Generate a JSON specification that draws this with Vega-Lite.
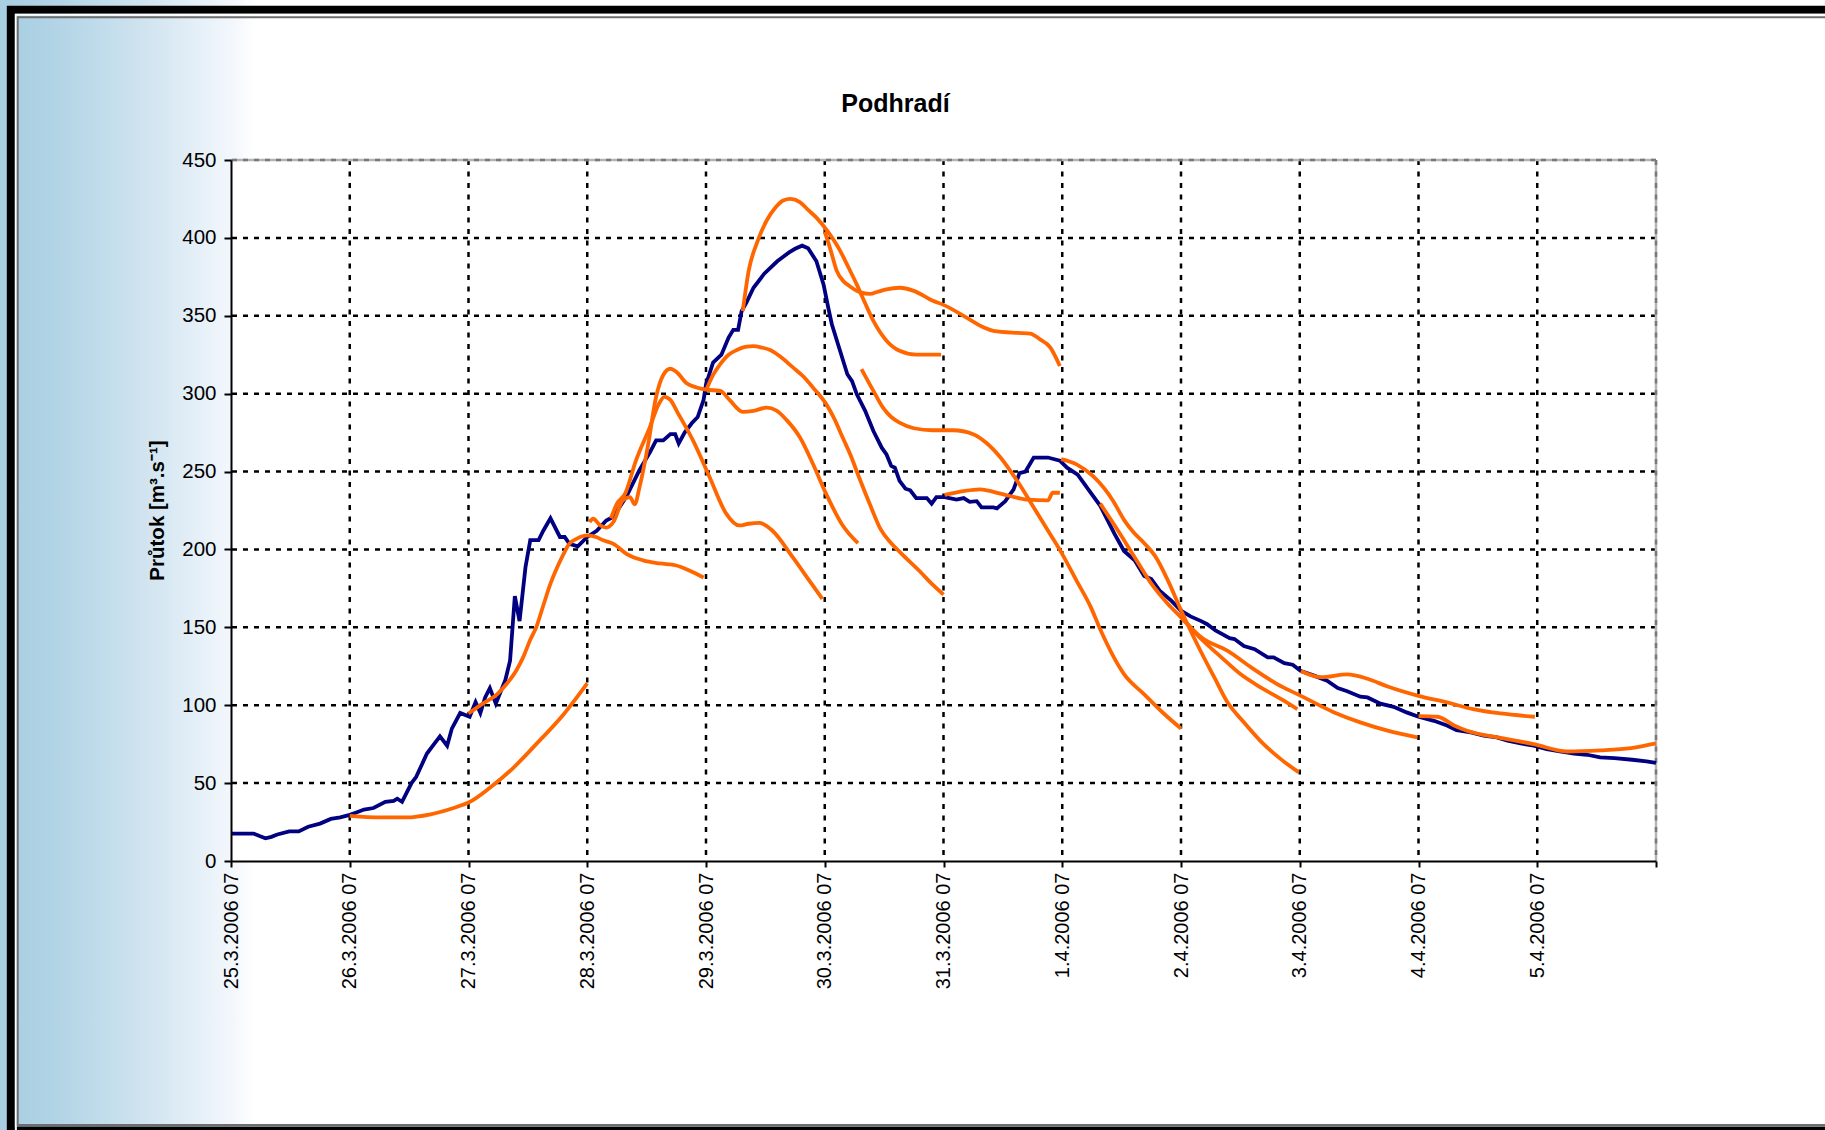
{
  "$schema": "https://vega.github.io/schema/vega-lite/v6.json",
  "width": 1425,
  "height": 701,
  "autosize": {"type": "none"},
  "padding": {"left": 231, "top": 160, "right": 169, "bottom": 269},
  "background": "#ffffff",
  "config": {
    "view": {"stroke": null},
    "font": "Liberation Sans"
  },
  "title": {
    "text": "Podhradí",
    "font": "Liberation Sans",
    "fontSize": 25,
    "fontWeight": "bold",
    "color": "#000000",
    "anchor": "middle",
    "dx": -48,
    "offset": 0,
    "dy": 158,
    "baseline": "alphabetic"
  },
  "datasets": {
    "obs": [
      {"t": "2006-03-25T07:00", "q": 17.6}, {"t": "2006-03-25T11:34", "q": 17.6}, {"t": "2006-03-25T12:46", "q": 16},
      {"t": "2006-03-25T13:58", "q": 14.6}, {"t": "2006-03-25T15:10", "q": 15.5}, {"t": "2006-03-25T16:22", "q": 17},
      {"t": "2006-03-25T18:46", "q": 19}, {"t": "2006-03-25T20:41", "q": 19}, {"t": "2006-03-25T22:36", "q": 22},
      {"t": "2006-03-26T01:00", "q": 24}, {"t": "2006-03-26T03:10", "q": 27}, {"t": "2006-03-26T05:05", "q": 28},
      {"t": "2006-03-26T07:00", "q": 29.6}, {"t": "2006-03-26T08:12", "q": 31}, {"t": "2006-03-26T09:53", "q": 33},
      {"t": "2006-03-26T11:48", "q": 34}, {"t": "2006-03-26T14:12", "q": 38}, {"t": "2006-03-26T15:53", "q": 38.6},
      {"t": "2006-03-26T16:36", "q": 40}, {"t": "2006-03-26T17:34", "q": 38}, {"t": "2006-03-26T19:29", "q": 50},
      {"t": "2006-03-26T20:26", "q": 54}, {"t": "2006-03-26T22:36", "q": 69}, {"t": "2006-03-27T00:02", "q": 75},
      {"t": "2006-03-27T01:14", "q": 80}, {"t": "2006-03-27T02:41", "q": 74}, {"t": "2006-03-27T03:38", "q": 85},
      {"t": "2006-03-27T05:19", "q": 95}, {"t": "2006-03-27T07:14", "q": 92.6}, {"t": "2006-03-27T08:26", "q": 102},
      {"t": "2006-03-27T09:24", "q": 95}, {"t": "2006-03-27T10:22", "q": 105}, {"t": "2006-03-27T11:19", "q": 111},
      {"t": "2006-03-27T12:31", "q": 101}, {"t": "2006-03-27T14:26", "q": 116}, {"t": "2006-03-27T15:24", "q": 128.6},
      {"t": "2006-03-27T16:22", "q": 170}, {"t": "2006-03-27T17:19", "q": 154}, {"t": "2006-03-27T18:31", "q": 188.6},
      {"t": "2006-03-27T19:29", "q": 206}, {"t": "2006-03-27T21:10", "q": 206}, {"t": "2006-03-27T22:07", "q": 212},
      {"t": "2006-03-27T23:34", "q": 220}, {"t": "2006-03-28T01:29", "q": 208}, {"t": "2006-03-28T02:26", "q": 208},
      {"t": "2006-03-28T03:24", "q": 203.6}, {"t": "2006-03-28T05:05", "q": 202}, {"t": "2006-03-28T07:00", "q": 208},
      {"t": "2006-03-28T08:55", "q": 212}, {"t": "2006-03-28T10:50", "q": 218.6}, {"t": "2006-03-28T12:17", "q": 221},
      {"t": "2006-03-28T14:55", "q": 234}, {"t": "2006-03-28T17:34", "q": 251}, {"t": "2006-03-28T19:43", "q": 262.6},
      {"t": "2006-03-28T20:55", "q": 270}, {"t": "2006-03-28T22:22", "q": 270}, {"t": "2006-03-28T23:48", "q": 274},
      {"t": "2006-03-29T00:46", "q": 274}, {"t": "2006-03-29T01:29", "q": 268}, {"t": "2006-03-29T02:41", "q": 275},
      {"t": "2006-03-29T04:07", "q": 281}, {"t": "2006-03-29T05:19", "q": 285}, {"t": "2006-03-29T06:31", "q": 296},
      {"t": "2006-03-29T07:00", "q": 306}, {"t": "2006-03-29T08:26", "q": 320}, {"t": "2006-03-29T10:07", "q": 325},
      {"t": "2006-03-29T11:34", "q": 336}, {"t": "2006-03-29T12:31", "q": 341}, {"t": "2006-03-29T13:29", "q": 341},
      {"t": "2006-03-29T14:12", "q": 353}, {"t": "2006-03-29T15:10", "q": 358.5}, {"t": "2006-03-29T16:36", "q": 368},
      {"t": "2006-03-29T18:46", "q": 377}, {"t": "2006-03-29T21:24", "q": 385}, {"t": "2006-03-29T23:48", "q": 390.7},
      {"t": "2006-03-30T01:00", "q": 393}, {"t": "2006-03-30T02:26", "q": 395}, {"t": "2006-03-30T03:38", "q": 393.4},
      {"t": "2006-03-30T05:19", "q": 385}, {"t": "2006-03-30T06:46", "q": 370}, {"t": "2006-03-30T07:43", "q": 355},
      {"t": "2006-03-30T08:26", "q": 344.6}, {"t": "2006-03-30T09:53", "q": 329.6}, {"t": "2006-03-30T11:34", "q": 312.5},
      {"t": "2006-03-30T12:31", "q": 308}, {"t": "2006-03-30T13:29", "q": 299.6}, {"t": "2006-03-30T15:10", "q": 289},
      {"t": "2006-03-30T16:50", "q": 276}, {"t": "2006-03-30T18:31", "q": 265.3}, {"t": "2006-03-30T19:29", "q": 261},
      {"t": "2006-03-30T20:26", "q": 253.6}, {"t": "2006-03-30T21:10", "q": 252.5}, {"t": "2006-03-30T22:07", "q": 244},
      {"t": "2006-03-30T23:19", "q": 239}, {"t": "2006-03-31T00:17", "q": 238}, {"t": "2006-03-31T01:29", "q": 233},
      {"t": "2006-03-31T03:38", "q": 233}, {"t": "2006-03-31T04:36", "q": 229.4}, {"t": "2006-03-31T05:34", "q": 233.6},
      {"t": "2006-03-31T07:14", "q": 233.6}, {"t": "2006-03-31T09:38", "q": 232}, {"t": "2006-03-31T11:05", "q": 233},
      {"t": "2006-03-31T12:17", "q": 230.6}, {"t": "2006-03-31T13:43", "q": 231}, {"t": "2006-03-31T14:41", "q": 227},
      {"t": "2006-03-31T17:05", "q": 227}, {"t": "2006-03-31T17:48", "q": 226.4}, {"t": "2006-03-31T19:29", "q": 231},
      {"t": "2006-03-31T21:10", "q": 238.6}, {"t": "2006-03-31T22:22", "q": 249}, {"t": "2006-03-31T23:34", "q": 250},
      {"t": "2006-04-01T01:14", "q": 259}, {"t": "2006-04-01T04:07", "q": 259}, {"t": "2006-04-01T06:31", "q": 257},
      {"t": "2006-04-01T07:58", "q": 252.5}, {"t": "2006-04-01T10:07", "q": 248}, {"t": "2006-04-01T12:31", "q": 237.5},
      {"t": "2006-04-01T14:41", "q": 228}, {"t": "2006-04-01T17:34", "q": 210}, {"t": "2006-04-01T19:29", "q": 199},
      {"t": "2006-04-01T21:38", "q": 193}, {"t": "2006-04-01T23:34", "q": 183}, {"t": "2006-04-02T01:00", "q": 181},
      {"t": "2006-04-02T02:41", "q": 173.6}, {"t": "2006-04-02T05:05", "q": 167}, {"t": "2006-04-02T07:00", "q": 160.7},
      {"t": "2006-04-02T08:55", "q": 157}, {"t": "2006-04-02T11:05", "q": 154}, {"t": "2006-04-02T12:17", "q": 152},
      {"t": "2006-04-02T13:58", "q": 148}, {"t": "2006-04-02T16:50", "q": 143}, {"t": "2006-04-02T17:48", "q": 142.5},
      {"t": "2006-04-02T19:43", "q": 138}, {"t": "2006-04-02T21:53", "q": 136}, {"t": "2006-04-03T00:31", "q": 130.7},
      {"t": "2006-04-03T01:43", "q": 130.7}, {"t": "2006-04-03T03:53", "q": 127}, {"t": "2006-04-03T05:34", "q": 126},
      {"t": "2006-04-03T07:14", "q": 122}, {"t": "2006-04-03T09:53", "q": 119}, {"t": "2006-04-03T12:31", "q": 115.7},
      {"t": "2006-04-03T14:41", "q": 111}, {"t": "2006-04-03T16:36", "q": 109}, {"t": "2006-04-03T19:14", "q": 105.5},
      {"t": "2006-04-03T20:41", "q": 105}, {"t": "2006-04-03T23:19", "q": 101}, {"t": "2006-04-04T01:58", "q": 99},
      {"t": "2006-04-04T04:36", "q": 95.4}, {"t": "2006-04-04T07:00", "q": 92.6}, {"t": "2006-04-04T10:07", "q": 90},
      {"t": "2006-04-04T12:46", "q": 87}, {"t": "2006-04-04T14:41", "q": 84}, {"t": "2006-04-04T17:34", "q": 82.6},
      {"t": "2006-04-04T20:12", "q": 80.4}, {"t": "2006-04-04T22:50", "q": 79.3}, {"t": "2006-04-05T01:00", "q": 77.2},
      {"t": "2006-04-05T03:38", "q": 75.5}, {"t": "2006-04-05T06:17", "q": 74}, {"t": "2006-04-05T08:55", "q": 71.8},
      {"t": "2006-04-05T11:34", "q": 70.3}, {"t": "2006-04-05T14:26", "q": 69}, {"t": "2006-04-05T17:05", "q": 68.2},
      {"t": "2006-04-05T19:43", "q": 66.5}, {"t": "2006-04-05T22:36", "q": 66}, {"t": "2006-04-06T02:12", "q": 65},
      {"t": "2006-04-06T05:05", "q": 64}, {"t": "2006-04-06T07:00", "q": 63}
    ],
    "fc": [
      {"run": "F1", "t": "2006-03-26T07:00", "q": 29}, {"run": "F1", "t": "2006-03-26T13:14", "q": 28},
      {"run": "F1", "t": "2006-03-26T18:31", "q": 28}, {"run": "F1", "t": "2006-03-26T23:19", "q": 30},
      {"run": "F1", "t": "2006-03-27T04:36", "q": 34.7}, {"run": "F1", "t": "2006-03-27T07:00", "q": 37.5},
      {"run": "F1", "t": "2006-03-27T11:19", "q": 47}, {"run": "F1", "t": "2006-03-27T16:07", "q": 60},
      {"run": "F1", "t": "2006-03-27T20:41", "q": 75}, {"run": "F1", "t": "2006-03-28T02:12", "q": 94},
      {"run": "F1", "t": "2006-03-28T07:00", "q": 114},

      {"run": "F2", "t": "2006-03-27T07:00", "q": 94.7}, {"run": "F2", "t": "2006-03-27T09:53", "q": 101},
      {"run": "F2", "t": "2006-03-27T12:46", "q": 107}, {"run": "F2", "t": "2006-03-27T14:41", "q": 113.6},
      {"run": "F2", "t": "2006-03-27T16:36", "q": 122}, {"run": "F2", "t": "2006-03-27T18:02", "q": 130.7},
      {"run": "F2", "t": "2006-03-27T19:29", "q": 142}, {"run": "F2", "t": "2006-03-27T20:41", "q": 150},
      {"run": "F2", "t": "2006-03-27T22:07", "q": 164}, {"run": "F2", "t": "2006-03-27T23:34", "q": 178},
      {"run": "F2", "t": "2006-03-28T01:00", "q": 189}, {"run": "F2", "t": "2006-03-28T02:12", "q": 197},
      {"run": "F2", "t": "2006-03-28T03:24", "q": 203.7}, {"run": "F2", "t": "2006-03-28T04:50", "q": 206.8},
      {"run": "F2", "t": "2006-03-28T07:00", "q": 209}, {"run": "F2", "t": "2006-03-28T08:55", "q": 207.8},
      {"run": "F2", "t": "2006-03-28T10:07", "q": 206}, {"run": "F2", "t": "2006-03-28T12:17", "q": 203.6},
      {"run": "F2", "t": "2006-03-28T14:55", "q": 197.2}, {"run": "F2", "t": "2006-03-28T18:17", "q": 193},
      {"run": "F2", "t": "2006-03-28T21:38", "q": 191}, {"run": "F2", "t": "2006-03-29T01:00", "q": 189.7},
      {"run": "F2", "t": "2006-03-29T03:38", "q": 186.5}, {"run": "F2", "t": "2006-03-29T06:31", "q": 182},

      {"run": "F3", "t": "2006-03-28T07:29", "q": 217.6}, {"run": "F3", "t": "2006-03-28T08:12", "q": 219.7},
      {"run": "F3", "t": "2006-03-28T09:38", "q": 215.4}, {"run": "F3", "t": "2006-03-28T10:50", "q": 214},
      {"run": "F3", "t": "2006-03-28T12:17", "q": 217.6}, {"run": "F3", "t": "2006-03-28T14:12", "q": 231.5},
      {"run": "F3", "t": "2006-03-28T15:38", "q": 233.6}, {"run": "F3", "t": "2006-03-28T16:36", "q": 229},
      {"run": "F3", "t": "2006-03-28T17:34", "q": 240}, {"run": "F3", "t": "2006-03-28T19:14", "q": 266},
      {"run": "F3", "t": "2006-03-28T20:55", "q": 298}, {"run": "F3", "t": "2006-03-28T22:22", "q": 312},
      {"run": "F3", "t": "2006-03-28T23:48", "q": 316}, {"run": "F3", "t": "2006-03-29T01:00", "q": 314},
      {"run": "F3", "t": "2006-03-29T03:10", "q": 306.5}, {"run": "F3", "t": "2006-03-29T05:05", "q": 304},
      {"run": "F3", "t": "2006-03-29T07:00", "q": 302.6}, {"run": "F3", "t": "2006-03-29T09:53", "q": 301.8},
      {"run": "F3", "t": "2006-03-29T11:48", "q": 295.8}, {"run": "F3", "t": "2006-03-29T14:26", "q": 288.3},
      {"run": "F3", "t": "2006-03-29T16:36", "q": 289}, {"run": "F3", "t": "2006-03-29T19:14", "q": 291},
      {"run": "F3", "t": "2006-03-29T21:10", "q": 289.3}, {"run": "F3", "t": "2006-03-29T23:19", "q": 283},
      {"run": "F3", "t": "2006-03-30T01:58", "q": 272}, {"run": "F3", "t": "2006-03-30T04:36", "q": 255},
      {"run": "F3", "t": "2006-03-30T07:14", "q": 236}, {"run": "F3", "t": "2006-03-30T10:36", "q": 215.5},
      {"run": "F3", "t": "2006-03-30T13:43", "q": 204},

      {"run": "F4", "t": "2006-03-28T11:48", "q": 220}, {"run": "F4", "t": "2006-03-28T13:00", "q": 229.4},
      {"run": "F4", "t": "2006-03-28T14:41", "q": 236}, {"run": "F4", "t": "2006-03-28T16:50", "q": 257},
      {"run": "F4", "t": "2006-03-28T19:43", "q": 279}, {"run": "F4", "t": "2006-03-28T21:24", "q": 293},
      {"run": "F4", "t": "2006-03-28T22:36", "q": 298}, {"run": "F4", "t": "2006-03-28T23:48", "q": 296},
      {"run": "F4", "t": "2006-03-29T01:14", "q": 288}, {"run": "F4", "t": "2006-03-29T04:22", "q": 270},
      {"run": "F4", "t": "2006-03-29T07:43", "q": 246.5}, {"run": "F4", "t": "2006-03-29T11:05", "q": 223},
      {"run": "F4", "t": "2006-03-29T13:43", "q": 215.4}, {"run": "F4", "t": "2006-03-29T15:38", "q": 216.5},
      {"run": "F4", "t": "2006-03-29T17:48", "q": 217}, {"run": "F4", "t": "2006-03-29T20:26", "q": 212},
      {"run": "F4", "t": "2006-03-30T00:31", "q": 195}, {"run": "F4", "t": "2006-03-30T03:53", "q": 180},
      {"run": "F4", "t": "2006-03-30T06:31", "q": 168.3},

      {"run": "F5", "t": "2006-03-29T07:00", "q": 302}, {"run": "F5", "t": "2006-03-29T08:26", "q": 312},
      {"run": "F5", "t": "2006-03-29T09:53", "q": 319}, {"run": "F5", "t": "2006-03-29T11:34", "q": 325},
      {"run": "F5", "t": "2006-03-29T13:14", "q": 328}, {"run": "F5", "t": "2006-03-29T14:55", "q": 330},
      {"run": "F5", "t": "2006-03-29T16:36", "q": 330.5}, {"run": "F5", "t": "2006-03-29T18:17", "q": 329.6},
      {"run": "F5", "t": "2006-03-29T19:58", "q": 328}, {"run": "F5", "t": "2006-03-29T22:07", "q": 323.5},
      {"run": "F5", "t": "2006-03-30T00:31", "q": 317}, {"run": "F5", "t": "2006-03-30T02:41", "q": 311},
      {"run": "F5", "t": "2006-03-30T04:36", "q": 304}, {"run": "F5", "t": "2006-03-30T07:14", "q": 293.6},
      {"run": "F5", "t": "2006-03-30T08:55", "q": 284}, {"run": "F5", "t": "2006-03-30T10:36", "q": 272},
      {"run": "F5", "t": "2006-03-30T12:17", "q": 260}, {"run": "F5", "t": "2006-03-30T13:58", "q": 246},
      {"run": "F5", "t": "2006-03-30T16:07", "q": 229}, {"run": "F5", "t": "2006-03-30T18:17", "q": 213},
      {"run": "F5", "t": "2006-03-30T20:26", "q": 204}, {"run": "F5", "t": "2006-03-30T22:36", "q": 197},
      {"run": "F5", "t": "2006-03-31T02:12", "q": 186}, {"run": "F5", "t": "2006-03-31T04:36", "q": 178},
      {"run": "F5", "t": "2006-03-31T07:00", "q": 171},

      {"run": "F6", "t": "2006-03-29T14:26", "q": 353}, {"run": "F6", "t": "2006-03-29T15:38", "q": 379},
      {"run": "F6", "t": "2006-03-29T17:19", "q": 397}, {"run": "F6", "t": "2006-03-29T19:14", "q": 411},
      {"run": "F6", "t": "2006-03-29T20:55", "q": 419}, {"run": "F6", "t": "2006-03-29T22:36", "q": 424},
      {"run": "F6", "t": "2006-03-30T00:02", "q": 425}, {"run": "F6", "t": "2006-03-30T01:58", "q": 423},
      {"run": "F6", "t": "2006-03-30T03:38", "q": 418}, {"run": "F6", "t": "2006-03-30T05:19", "q": 413},
      {"run": "F6", "t": "2006-03-30T07:29", "q": 404.6}, {"run": "F6", "t": "2006-03-30T10:07", "q": 391.7},
      {"run": "F6", "t": "2006-03-30T11:48", "q": 381}, {"run": "F6", "t": "2006-03-30T13:29", "q": 370},
      {"run": "F6", "t": "2006-03-30T15:10", "q": 358}, {"run": "F6", "t": "2006-03-30T16:50", "q": 346.7},
      {"run": "F6", "t": "2006-03-30T19:29", "q": 334}, {"run": "F6", "t": "2006-03-30T22:07", "q": 327.5},
      {"run": "F6", "t": "2006-03-31T01:29", "q": 325}, {"run": "F6", "t": "2006-03-31T06:31", "q": 325},

      {"run": "F7", "t": "2006-03-30T07:00", "q": 404}, {"run": "F7", "t": "2006-03-30T08:12", "q": 392},
      {"run": "F7", "t": "2006-03-30T09:24", "q": 379}, {"run": "F7", "t": "2006-03-30T10:50", "q": 372},
      {"run": "F7", "t": "2006-03-30T12:02", "q": 369}, {"run": "F7", "t": "2006-03-30T14:12", "q": 365},
      {"run": "F7", "t": "2006-03-30T16:07", "q": 364}, {"run": "F7", "t": "2006-03-30T17:48", "q": 365.5},
      {"run": "F7", "t": "2006-03-30T19:29", "q": 367}, {"run": "F7", "t": "2006-03-30T22:07", "q": 368},
      {"run": "F7", "t": "2006-03-31T01:00", "q": 366}, {"run": "F7", "t": "2006-03-31T04:50", "q": 359.6},
      {"run": "F7", "t": "2006-03-31T07:00", "q": 357}, {"run": "F7", "t": "2006-03-31T11:34", "q": 349},
      {"run": "F7", "t": "2006-03-31T15:10", "q": 342.5}, {"run": "F7", "t": "2006-03-31T17:05", "q": 340.3},
      {"run": "F7", "t": "2006-03-31T21:53", "q": 339}, {"run": "F7", "t": "2006-04-01T00:31", "q": 338.6},
      {"run": "F7", "t": "2006-04-01T02:26", "q": 335}, {"run": "F7", "t": "2006-04-01T04:36", "q": 329.6},
      {"run": "F7", "t": "2006-04-01T06:31", "q": 317.8},

      {"run": "F8", "t": "2006-03-30T14:26", "q": 315.7}, {"run": "F8", "t": "2006-03-30T16:50", "q": 301.8},
      {"run": "F8", "t": "2006-03-30T18:46", "q": 291}, {"run": "F8", "t": "2006-03-30T20:26", "q": 285},
      {"run": "F8", "t": "2006-03-30T22:07", "q": 281.4}, {"run": "F8", "t": "2006-03-31T01:00", "q": 277.8},
      {"run": "F8", "t": "2006-03-31T04:50", "q": 276.5}, {"run": "F8", "t": "2006-03-31T08:55", "q": 276.5},
      {"run": "F8", "t": "2006-03-31T13:00", "q": 274}, {"run": "F8", "t": "2006-03-31T15:38", "q": 268.5},
      {"run": "F8", "t": "2006-03-31T18:31", "q": 259}, {"run": "F8", "t": "2006-03-31T21:53", "q": 244},
      {"run": "F8", "t": "2006-04-01T01:14", "q": 227}, {"run": "F8", "t": "2006-04-01T04:36", "q": 209.6},
      {"run": "F8", "t": "2006-04-01T07:00", "q": 197}, {"run": "F8", "t": "2006-04-01T09:53", "q": 180},
      {"run": "F8", "t": "2006-04-01T12:46", "q": 163}, {"run": "F8", "t": "2006-04-01T14:55", "q": 147},
      {"run": "F8", "t": "2006-04-01T19:29", "q": 120}, {"run": "F8", "t": "2006-04-01T23:34", "q": 107},
      {"run": "F8", "t": "2006-04-02T03:24", "q": 95}, {"run": "F8", "t": "2006-04-02T07:00", "q": 85},

      {"run": "F9", "t": "2006-03-31T07:14", "q": 235}, {"run": "F9", "t": "2006-03-31T11:05", "q": 237.5},
      {"run": "F9", "t": "2006-03-31T14:26", "q": 238.6}, {"run": "F9", "t": "2006-03-31T17:05", "q": 237},
      {"run": "F9", "t": "2006-03-31T20:26", "q": 234.3}, {"run": "F9", "t": "2006-03-31T23:48", "q": 232},
      {"run": "F9", "t": "2006-04-01T04:07", "q": 231.5}, {"run": "F9", "t": "2006-04-01T05:05", "q": 236.4},
      {"run": "F9", "t": "2006-04-01T06:31", "q": 236.4},

      {"run": "F10", "t": "2006-04-01T06:46", "q": 258}, {"run": "F10", "t": "2006-04-01T09:53", "q": 254.6},
      {"run": "F10", "t": "2006-04-01T13:14", "q": 247}, {"run": "F10", "t": "2006-04-01T17:19", "q": 231},
      {"run": "F10", "t": "2006-04-01T19:29", "q": 219}, {"run": "F10", "t": "2006-04-01T21:24", "q": 211},
      {"run": "F10", "t": "2006-04-01T23:34", "q": 204}, {"run": "F10", "t": "2006-04-02T01:43", "q": 196},
      {"run": "F10", "t": "2006-04-02T04:22", "q": 180}, {"run": "F10", "t": "2006-04-02T07:00", "q": 161},
      {"run": "F10", "t": "2006-04-02T08:55", "q": 148}, {"run": "F10", "t": "2006-04-02T11:05", "q": 134},
      {"run": "F10", "t": "2006-04-02T13:43", "q": 118}, {"run": "F10", "t": "2006-04-02T16:22", "q": 102},
      {"run": "F10", "t": "2006-04-02T19:43", "q": 89}, {"run": "F10", "t": "2006-04-02T23:05", "q": 77},
      {"run": "F10", "t": "2006-04-03T03:10", "q": 65.4}, {"run": "F10", "t": "2006-04-03T06:46", "q": 57},

      {"run": "F11", "t": "2006-04-01T14:41", "q": 229.4}, {"run": "F11", "t": "2006-04-01T18:17", "q": 212},
      {"run": "F11", "t": "2006-04-01T21:38", "q": 195}, {"run": "F11", "t": "2006-04-02T01:00", "q": 178},
      {"run": "F11", "t": "2006-04-02T04:22", "q": 165}, {"run": "F11", "t": "2006-04-02T07:00", "q": 156.4},
      {"run": "F11", "t": "2006-04-02T11:05", "q": 142.5}, {"run": "F11", "t": "2006-04-02T15:10", "q": 130.7},
      {"run": "F11", "t": "2006-04-02T19:00", "q": 120}, {"run": "F11", "t": "2006-04-02T23:05", "q": 111.5},
      {"run": "F11", "t": "2006-04-03T03:10", "q": 104}, {"run": "F11", "t": "2006-04-03T06:31", "q": 97.5},

      {"run": "F12", "t": "2006-04-02T07:14", "q": 156}, {"run": "F12", "t": "2006-04-02T11:05", "q": 143.6},
      {"run": "F12", "t": "2006-04-02T16:22", "q": 135}, {"run": "F12", "t": "2006-04-02T21:10", "q": 124.3},
      {"run": "F12", "t": "2006-04-03T02:26", "q": 113.6}, {"run": "F12", "t": "2006-04-03T07:14", "q": 106},
      {"run": "F12", "t": "2006-04-03T13:58", "q": 95.4}, {"run": "F12", "t": "2006-04-03T19:14", "q": 89},
      {"run": "F12", "t": "2006-04-04T00:46", "q": 83.7}, {"run": "F12", "t": "2006-04-04T06:46", "q": 79.4},

      {"run": "F13", "t": "2006-04-03T07:14", "q": 122}, {"run": "F13", "t": "2006-04-03T11:19", "q": 118},
      {"run": "F13", "t": "2006-04-03T16:36", "q": 119.8}, {"run": "F13", "t": "2006-04-03T20:41", "q": 117},
      {"run": "F13", "t": "2006-04-04T00:46", "q": 112}, {"run": "F13", "t": "2006-04-04T07:00", "q": 106},
      {"run": "F13", "t": "2006-04-04T12:46", "q": 101.8}, {"run": "F13", "t": "2006-04-04T18:02", "q": 97.5},
      {"run": "F13", "t": "2006-04-04T23:34", "q": 94.7}, {"run": "F13", "t": "2006-04-05T06:31", "q": 92.6},

      {"run": "F14", "t": "2006-04-04T07:00", "q": 93}, {"run": "F14", "t": "2006-04-04T10:50", "q": 92.6},
      {"run": "F14", "t": "2006-04-04T14:12", "q": 87}, {"run": "F14", "t": "2006-04-04T16:50", "q": 83.6},
      {"run": "F14", "t": "2006-04-04T23:34", "q": 79}, {"run": "F14", "t": "2006-04-05T06:17", "q": 75},
      {"run": "F14", "t": "2006-04-05T13:00", "q": 70.3}, {"run": "F14", "t": "2006-04-05T19:43", "q": 71},
      {"run": "F14", "t": "2006-04-06T01:58", "q": 72.5}, {"run": "F14", "t": "2006-04-06T07:00", "q": 75.5}
    ],
    "hgrid": [{"q": 50}, {"q": 100}, {"q": 150}, {"q": 200}, {"q": 250}, {"q": 300}, {"q": 350}, {"q": 400}],
    "vgrid": [
      {"t": "2006-03-26T07:00"}, {"t": "2006-03-27T07:00"}, {"t": "2006-03-28T07:00"}, {"t": "2006-03-29T07:00"},
      {"t": "2006-03-30T07:00"}, {"t": "2006-03-31T07:00"}, {"t": "2006-04-01T07:00"}, {"t": "2006-04-02T07:00"},
      {"t": "2006-04-03T07:00"}, {"t": "2006-04-04T07:00"}, {"t": "2006-04-05T07:00"}
    ],
    "hborder": [{"q": 450}],
    "vborder": [{"t": "2006-04-06T07:00"}]
  },
  "layer": [
    {
      "data": {"values": [{}]},
      "mark": {
        "type": "rect",
        "fill": {
          "gradient": "linear", "x1": 0, "y1": 0, "x2": 1, "y2": 0,
          "stops": [
            {"offset": 0, "color": "#a6cde0"},
            {"offset": 0.0104, "color": "#a8cee1"},
            {"offset": 0.0365, "color": "#b0d3e5"},
            {"offset": 0.0625, "color": "#c0dcea"},
            {"offset": 0.0885, "color": "#d2e5f0"},
            {"offset": 0.1146, "color": "#e6f0f8"},
            {"offset": 0.1328, "color": "#f4f8fc"},
            {"offset": 0.1437, "color": "#ffffff"},
            {"offset": 1, "color": "#ffffff"}
          ]
        },
        "strokeWidth": 0
      },
      "encoding": {
        "x": {"datum": {"year": 2006, "month": 3, "date": 23, "hours": 4, "minutes": 16}, "type": "temporal",
              "scale": {"domain": [{"year": 2006, "month": 3, "date": 25, "hours": 7}, {"year": 2006, "month": 4, "date": 6, "hours": 7}], "nice": false}},
        "x2": {"datum": {"year": 2006, "month": 4, "date": 8, "hours": 8, "minutes": 19}},
        "y": {"datum": 566, "type": "quantitative", "scale": {"domain": [0, 450], "nice": false}},
        "y2": {"datum": -186}
      }
    },
    {
      "data": {"values": [{}]},
      "mark": {"type": "rect", "filled": false, "stroke": "#000000", "strokeWidth": 8},
      "encoding": {
        "x": {"datum": {"year": 2006, "month": 3, "date": 23, "hours": 10, "minutes": 30}, "type": "temporal"},
        "x2": {"datum": {"year": 2006, "month": 4, "date": 8, "hours": 8, "minutes": 19}},
        "y": {"datum": 546.5, "type": "quantitative"},
        "y2": {"datum": -173}
      }
    },
    {
      "data": {"values": [{}]},
      "mark": {"type": "rect", "filled": false, "stroke": "#ffffff", "strokeWidth": 2},
      "encoding": {
        "x": {"datum": {"year": 2006, "month": 3, "date": 23, "hours": 11, "minutes": 31}, "type": "temporal"},
        "x2": {"datum": {"year": 2006, "month": 4, "date": 8, "hours": 8, "minutes": 19}},
        "y": {"datum": 543.3, "type": "quantitative"},
        "y2": {"datum": -190}
      }
    },
    {
      "data": {"values": [{}]},
      "mark": {"type": "rect", "filled": false, "stroke": "#6e6e6e", "strokeWidth": 2},
      "encoding": {
        "x": {"datum": {"year": 2006, "month": 3, "date": 23, "hours": 11, "minutes": 53, "seconds": 30}, "type": "temporal"},
        "x2": {"datum": {"year": 2006, "month": 4, "date": 8, "hours": 8, "minutes": 19}},
        "y": {"datum": 541.6, "type": "quantitative"},
        "y2": {"datum": -169.5}
      }
    },
    {
      "data": {"values": [{}]},
      "mark": {"type": "rect", "fill": "#ffffff", "strokeWidth": 0},
      "encoding": {
        "x": {"datum": {"year": 2006, "month": 3, "date": 25, "hours": 7}, "type": "temporal"},
        "x2": {"datum": {"year": 2006, "month": 4, "date": 6, "hours": 7}},
        "y": {"datum": 0, "type": "quantitative"},
        "y2": {"datum": 450}
      }
    },
    {
      "data": {"name": "hgrid"},
      "mark": {"type": "rule", "color": "#000000", "strokeWidth": 2.5, "strokeDash": [5, 6]},
      "encoding": {
        "y": {"field": "q", "type": "quantitative"}
      }
    },
    {
      "data": {"name": "vgrid"},
      "mark": {"type": "rule", "color": "#000000", "strokeWidth": 2.5, "strokeDash": [5, 6.5]},
      "encoding": {
        "x": {"field": "t", "type": "temporal"}
      }
    },
    {
      "data": {"name": "hborder"},
      "mark": {"type": "rule", "color": "#b4b4b4", "strokeWidth": 2.5},
      "encoding": {
        "y": {"field": "q", "type": "quantitative"}
      }
    },
    {
      "data": {"name": "hborder"},
      "mark": {"type": "rule", "color": "#7a7a7a", "strokeWidth": 2.5, "strokeDash": [5, 6]},
      "encoding": {
        "y": {"field": "q", "type": "quantitative"}
      }
    },
    {
      "data": {"name": "vborder"},
      "mark": {"type": "rule", "color": "#b4b4b4", "strokeWidth": 2.5},
      "encoding": {
        "x": {"field": "t", "type": "temporal"}
      }
    },
    {
      "data": {"name": "vborder"},
      "mark": {"type": "rule", "color": "#7a7a7a", "strokeWidth": 2.5, "strokeDash": [5, 6.5]},
      "encoding": {
        "x": {"field": "t", "type": "temporal"}
      }
    },
    {
      "data": {"name": "obs"},
      "mark": {"type": "line", "color": "#000080", "strokeWidth": 3.8, "interpolate": "linear"},
      "encoding": {
        "x": {
          "field": "t", "type": "temporal",
          "axis": {
            "title": null,
            "values": [
              {"year": 2006, "month": 3, "date": 25, "hours": 7}, {"year": 2006, "month": 3, "date": 26, "hours": 7},
              {"year": 2006, "month": 3, "date": 27, "hours": 7}, {"year": 2006, "month": 3, "date": 28, "hours": 7},
              {"year": 2006, "month": 3, "date": 29, "hours": 7}, {"year": 2006, "month": 3, "date": 30, "hours": 7},
              {"year": 2006, "month": 3, "date": 31, "hours": 7}, {"year": 2006, "month": 4, "date": 1, "hours": 7},
              {"year": 2006, "month": 4, "date": 2, "hours": 7}, {"year": 2006, "month": 4, "date": 3, "hours": 7},
              {"year": 2006, "month": 4, "date": 4, "hours": 7}, {"year": 2006, "month": 4, "date": 5, "hours": 7},
              {"year": 2006, "month": 4, "date": 6, "hours": 7}
            ],
            "labelExpr": "month(datum.value) == 3 && date(datum.value) == 6 ? '' : timeFormat(datum.value, '%-d.%-m.%Y %H')",
            "labelAngle": 270,
            "labelFont": "Liberation Sans",
            "labelFontSize": 20,
            "labelColor": "#000000",
            "labelPadding": 5,
            "labelOverlap": false,
            "labelBound": false,
            "labelFlush": false,
            "grid": false,
            "domainColor": "#000000",
            "domainWidth": 2,
            "tickColor": "#000000",
            "tickWidth": 2,
            "tickSize": 6,
            "zindex": 1
          }
        },
        "y": {
          "field": "q", "type": "quantitative",
          "axis": {
            "title": "Průtok [m³.s⁻¹]",
            "values": [0, 50, 100, 150, 200, 250, 300, 350, 400, 450],
            "labelFont": "Liberation Sans",
            "labelFontSize": 20.5,
            "labelColor": "#000000",
            "labelPadding": 8,
            "labelOverlap": false,
            "labelFlush": false,
            "grid": false,
            "domainColor": "#000000",
            "domainWidth": 2,
            "tickColor": "#000000",
            "tickWidth": 2,
            "tickSize": 7,
            "titleFont": "Liberation Sans",
            "titleFontSize": 20.5,
            "titleFontWeight": "bold",
            "titleColor": "#000000",
            "titleAngle": 270,
            "titleX": -74,
            "titleY": 350,
            "titleAlign": "center",
            "titleBaseline": "middle",
            "zindex": 1
          }
        }
      }
    },
    {
      "data": {"name": "fc"},
      "mark": {"type": "line", "color": "#ff6600", "strokeWidth": 3.8, "interpolate": "monotone"},
      "encoding": {
        "x": {"field": "t", "type": "temporal"},
        "y": {"field": "q", "type": "quantitative"},
        "detail": {"field": "run", "type": "nominal"}
      }
    }
  ]
}
